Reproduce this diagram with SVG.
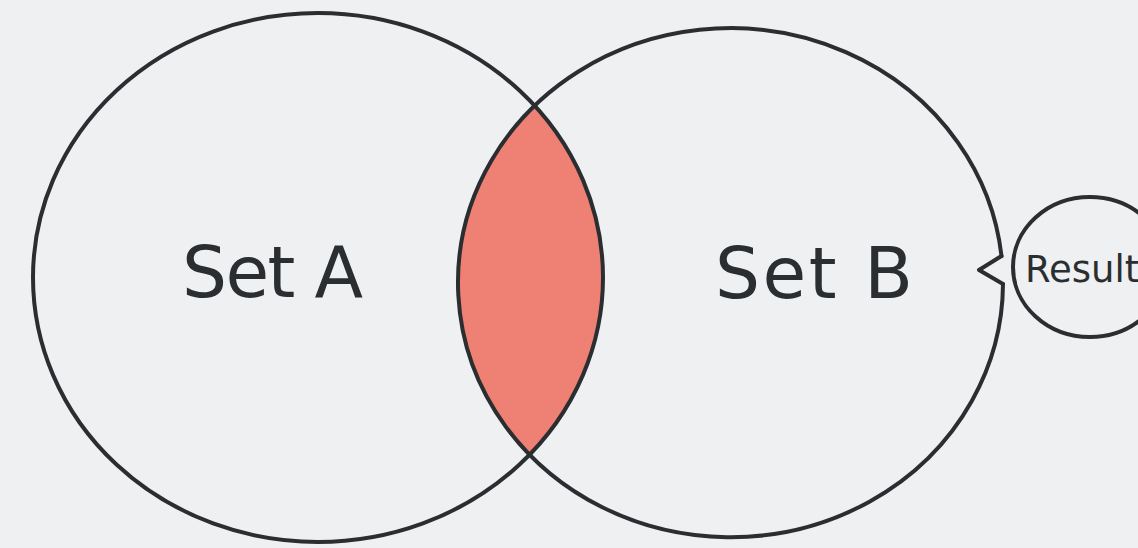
<svg xmlns="http://www.w3.org/2000/svg" width="1138" height="548" viewBox="0 0 1138 548">
  <style>
    .outline { fill: none; stroke: #2b2e31; stroke-width: 4; stroke-linejoin: round; stroke-linecap: round; }
    .label { font-family: "DejaVu Sans", "Liberation Sans", sans-serif; fill: #2b2e31; }
    .big { font-size: 71px; }
    .small { font-size: 37px; }
  </style>
  <defs>
    <clipPath id="clipA">
      <ellipse cx="318" cy="277.5" rx="285" ry="264.5"/>
    </clipPath>
  </defs>
  <rect width="1138" height="548" fill="#eff0f2"/>
  <g id="intersection">
    <ellipse cx="730.5" cy="282.5" rx="272.5" ry="254.5" fill="#ef8174" clip-path="url(#clipA)"/>
  </g>
  <g id="setA">
    <ellipse class="outline" cx="318" cy="277.5" rx="285" ry="264.5"/>
    <text class="label big" x="182" y="297" textLength="181" lengthAdjust="spacing">Set A</text>
  </g>
  <g id="setB">
    <path class="outline" d="M 1001.5 256 A 272.5 254.5 0 1 0 1003 284"/>
    <text class="label big" x="715" y="298" textLength="198" lengthAdjust="spacing">Set B</text>
  </g>
  <g id="result">
    <ellipse class="outline" cx="1090" cy="267" rx="77" ry="70"/>
    <text class="label small" x="1025" y="282">Result</text>
  </g>
  <g id="connectors">
    <path class="outline" d="M 1001.5 256 L 979 270 L 1003 284"/>
  </g>
</svg>
